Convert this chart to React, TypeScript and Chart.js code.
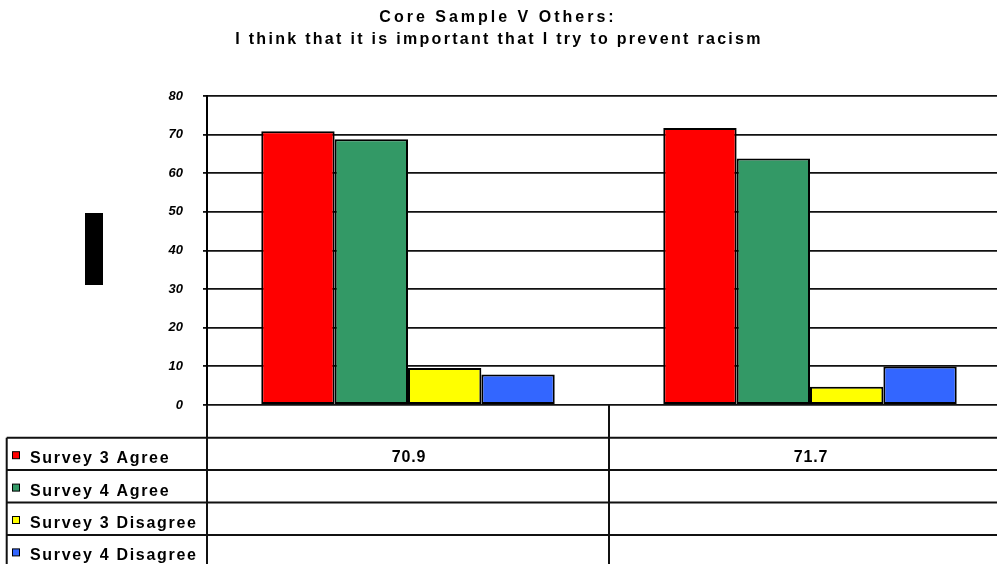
import React, { useEffect, useRef } from "react";
import { Chart, registerables } from "chart.js";

Chart.register(...registerables);

const categories = ["Core Sample", "Others"];
const seriesNames = ["Survey 3 Agree", "Survey 4 Agree", "Survey 3 Disagree", "Survey 4 Disagree"];
const survey3Agree = [70.9, 71.7];
const survey4Agree = [68.8, 63.8];
const survey3Disagree = [9.6, 4.7];
const survey4Disagree = [7.9, 10.0];
const seriesColors = ["#FF0000", "#339966", "#FFFF00", "#3366FF"];
const tableShown = [true, false, false, false];
const titleLines = ["Core Sample V Others:", "I think that it is important that I try to prevent racism"];
const yTicks = [0, 10, 20, 30, 40, 50, 60, 70, 80];

const FONT = "Arial, 'Liberation Sans', sans-serif";

const tablePlugin = {
  id: "tablePlugin",
  afterDraw(chart: any) {
    const ctx = chart.ctx as CanvasRenderingContext2D;
    const area = chart.chartArea;
    const xs = chart.scales.x;
    const W = chart.width;
    ctx.save();

    // title
    ctx.fillStyle = "#000";
    ctx.font = `bold 16px ${FONT}`;
    ctx.textAlign = "center";
    ctx.textBaseline = "alphabetic";
    (ctx as any).letterSpacing = "3px";
    ctx.fillText(titleLines[0], 498, 22);
    (ctx as any).letterSpacing = "2.3px";
    ctx.fillText(titleLines[1], 499, 44);

    // black box at left
    ctx.fillStyle = "#000";
    ctx.fillRect(85, 213, 18, 72);

    // table
    const headerBottom = 437.7;
    const rowH = 32.4;
    const leftX = 6.7;
    ctx.strokeStyle = "#111";
    ctx.lineWidth = 2;
    ctx.beginPath();
    ctx.moveTo(area.left, area.bottom);
    ctx.lineTo(area.left, 564);
    const sep = (xs.getPixelForValue(0) + xs.getPixelForValue(1)) / 2;
    ctx.moveTo(Math.round(sep), area.bottom);
    ctx.lineTo(Math.round(sep), 564);
    ctx.moveTo(leftX, headerBottom);
    ctx.lineTo(leftX, 564);
    for (let i = 0; i < seriesNames.length; i++) {
      const y = headerBottom + i * rowH;
      ctx.moveTo(leftX, y);
      ctx.lineTo(W, y);
    }
    ctx.stroke();

    chart.data.datasets.forEach((ds: any, i: number) => {
      const top = headerBottom + i * rowH;
      const base = top + 25.5;
      ctx.fillStyle = seriesColors[i];
      ctx.fillRect(12.5, base - 11.5, 7, 7);
      ctx.strokeStyle = "#000";
      ctx.lineWidth = 1;
      ctx.strokeRect(12.5, base - 11.5, 7, 7);
      ctx.fillStyle = "#000";
      ctx.font = `bold 16px ${FONT}`;
      (ctx as any).letterSpacing = "1.7px";
      ctx.textAlign = "left";
      ctx.fillText(ds.label, 30, base);
      if (tableShown[i]) {
        ctx.font = `bold 16px ${FONT}`;
        (ctx as any).letterSpacing = "0.8px";
        ctx.textAlign = "center";
        ds.data.forEach((v: number, j: number) => {
          ctx.fillText(v.toFixed(1), xs.getPixelForValue(j) + 1, base - 1);
        });
      }
    });
    ctx.restore();
  },
};

export default function App() {
  const ref = useRef<HTMLCanvasElement>(null);
  useEffect(() => {
    if (!ref.current) return;
    const data = [survey3Agree, survey4Agree, survey3Disagree, survey4Disagree];
    const chart = new Chart(ref.current, {
      type: "bar",
      data: {
        labels: categories,
        datasets: seriesNames.map((name, i) => ({
          label: name,
          data: data[i],
          backgroundColor: seriesColors[i],
          borderColor: "#000",
          borderWidth: 2,
          borderSkipped: false,
          barPercentage: 1,
          categoryPercentage: 0.73,
        })),
      },
      options: {
        animation: false,
        responsive: false,
        devicePixelRatio: 1,
        layout: { padding: { top: 96, bottom: 159, left: 0, right: 0 } },
        plugins: {
          legend: { display: false },
          title: { display: false },
          tooltip: { enabled: false },
        },
        scales: {
          x: { display: false },
          y: {
            min: 0,
            max: 80,
            afterFit: (s: any) => {
              s.width = 207;
            },
            afterBuildTicks: (s: any) => {
              s.ticks = yTicks.map((v) => ({ value: v }));
            },
            ticks: {
              padding: 20,
              color: "#000",
              font: { family: FONT, size: 13, style: "italic", weight: "bold" },
            },
            grid: {
              color: "#111",
              lineWidth: 1.8,
              tickLength: 4,
              drawTicks: true,
            },
            border: { display: true, color: "#000", width: 2 },
          },
        },
      },
      plugins: [tablePlugin],
    });
    return () => chart.destroy();
  }, []);
  return (
    <div
      style={{
        position: "fixed",
        left: 0,
        top: 0,
        width: 997,
        height: 564,
        overflow: "hidden",
        background: "#fff",
      }}
    >
      <canvas ref={ref} width={1011} height={564} style={{ display: "block" }} />
    </div>
  );
}
